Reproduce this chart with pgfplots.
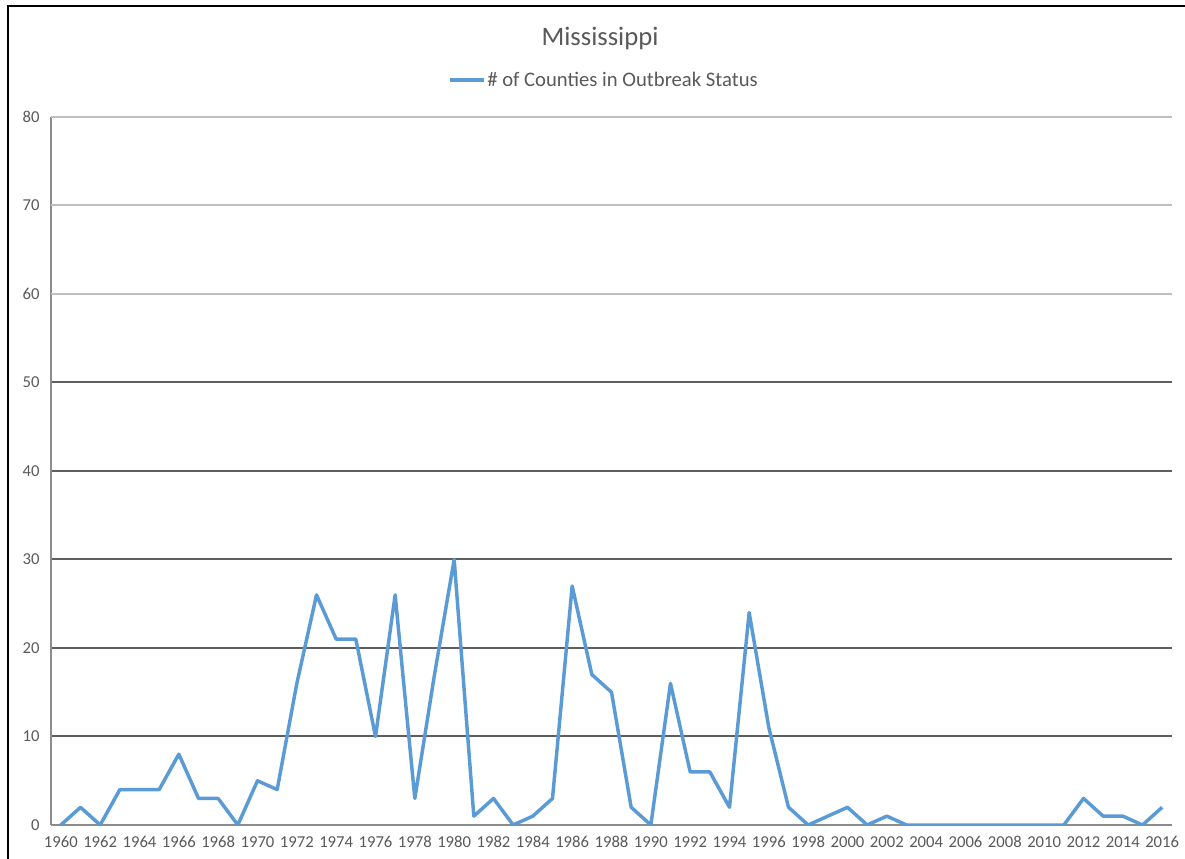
\documentclass[border=0pt]{standalone}
\usepackage{pgfplots}
\pgfplotsset{compat=1.18}
\usepackage{fontspec}
\setmainfont{Carlito}
\definecolor{txt}{HTML}{595959}
\definecolor{ser}{HTML}{5B9BD5}
\definecolor{gdark}{HTML}{5E5E5E}
\definecolor{glight}{HTML}{BEBEBE}
\definecolor{axc}{HTML}{8C8C8C}
\begin{document}
\begin{tikzpicture}
\path[use as bounding box] (0,0) rectangle (888.75pt,644.25pt);
\draw[line width=1.5pt] (6pt,0) -- (6pt,639.75pt) -- (888.75pt,639.75pt);
\begin{axis}[
  at={(38.25pt,25.5pt)}, anchor=south west,
  width=840.75pt, height=531pt, scale only axis,
  xmin=1959.5, xmax=2016.5, ymin=0, ymax=80,
  xtick={1960,1962,...,2016},
  ytick={0,10,...,50},
  extra y ticks={60,70,80},
  extra y tick style={grid style={color=glight, line width=1.5pt}},
  ymajorgrids, grid style={color=gdark, line width=1.5pt},
  axis lines*=left,
  axis line style={color=axc, line width=1pt},
  major tick length=0pt,
  /pgf/number format/assume math mode=true,
  /pgf/number format/1000 sep={},
  tick label style={font=\fontsize{12.5}{15}\selectfont, text=txt},
  xticklabel style={yshift=-5pt},
  yticklabel style={xshift=-5pt},
  title={Mississippi},
  title style={font=\fontsize{20}{24}\selectfont, text=txt, at={(0.5,1)}, anchor=center, yshift=53pt, xshift=-8.6pt},
  legend image code/.code={\draw[#1] (0pt,0pt) -- (26pt,0pt);},
  legend style={draw=none, fill=none, font=\fontsize{15.5}{18}\selectfont, text=txt,
    at={(0.5,1)}, anchor=center, yshift=27.75pt, xshift=-6pt,
    /tikz/every even column/.style={column sep=0pt},
    nodes={inner xsep=1pt}},
]
\addplot[color=ser, line width=2.6pt, line join=round] coordinates {
(1960,0) (1961,2) (1962,0) (1963,4) (1964,4) (1965,4) (1966,8) (1967,3) (1968,3) (1969,0)
(1970,5) (1971,4) (1972,16) (1973,26) (1974,21) (1975,21) (1976,10) (1977,26) (1978,3) (1979,17)
(1980,30) (1981,1) (1982,3) (1983,0) (1984,1) (1985,3) (1986,27) (1987,17) (1988,15) (1989,2)
(1990,0) (1991,16) (1992,6) (1993,6) (1994,2) (1995,24) (1996,11) (1997,2) (1998,0) (1999,1)
(2000,2) (2001,0) (2002,1) (2003,0) (2004,0) (2005,0) (2006,0) (2007,0) (2008,0) (2009,0)
(2010,0) (2011,0) (2012,3) (2013,1) (2014,1) (2015,0) (2016,2)
};
\addlegendentry{\# of Counties in Outbreak Status}
\end{axis}
\end{tikzpicture}
\end{document}
